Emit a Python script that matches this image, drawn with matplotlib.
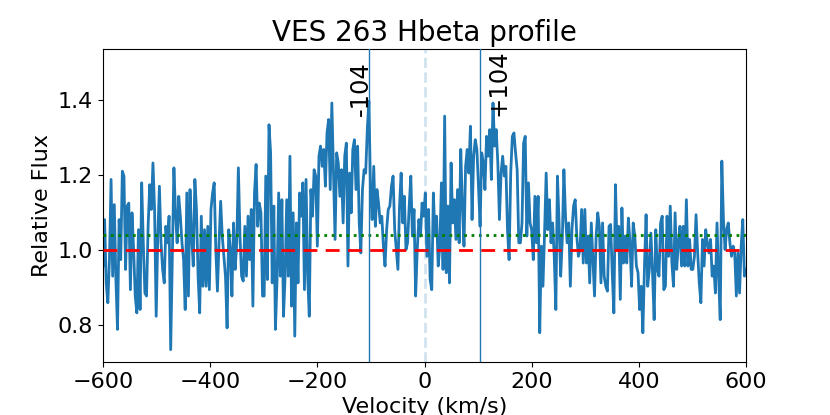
import numpy as np
import matplotlib
matplotlib.use("Agg")
import matplotlib.pyplot as plt

# Spectrum values (relative flux, uniform velocity grid -600..600 km/s)
seg1 = [0.956, 1.080, 0.911, 0.858, 0.973, 1.187, 0.929, 1.120, 0.920, 0.787,
        1.080, 0.973, 1.209, 1.196, 0.947, 1.116, 1.124, 0.893, 1.098, 1.000,
        0.876, 0.831, 1.053, 0.840, 1.178, 1.018, 0.884, 0.876, 1.062, 1.173,
        1.107, 1.231, 1.107, 0.822, 1.036, 1.169, 1.018, 0.947, 0.911, 1.062,
        1.018, 1.089, 0.733, 0.973, 1.218, 1.098, 1.018, 1.142, 1.089, 1.018]
seg2 = [0.973, 0.840, 1.151, 0.876, 1.160, 1.036, 0.956, 1.187, 1.107, 0.929,
        0.831, 1.089, 0.902, 1.053, 0.902, 1.062, 0.893, 1.107, 1.151, 1.178,
        1.000, 0.889, 1.018, 1.129, 1.036, 0.982, 0.929, 0.791, 1.053, 1.000,
        0.876, 1.071, 0.947, 1.018, 1.218, 1.036, 0.929, 0.916, 1.062, 0.929,
        1.089, 0.973, 1.107, 0.849, 1.151, 1.227, 1.062, 1.124, 1.098, 0.876]
seg3 = [0.876, 1.196, 0.920, 1.333, 1.258, 0.911, 1.116, 0.787, 0.920, 1.151,
        0.929, 1.133, 0.822, 0.929, 1.133, 0.929, 1.249, 0.849, 1.098, 0.769,
        1.071, 0.911, 1.151, 1.089, 1.178, 0.893, 1.187, 0.929, 0.822, 1.160,
        1.089, 1.213, 1.196, 1.009, 1.249, 1.276, 1.222, 1.267, 1.169, 1.311,
        1.347, 1.160, 1.391, 1.204, 1.027, 1.258, 1.231, 1.142, 1.213]
seg4 = [1.071, 1.249, 1.284, 0.956, 1.204, 1.098, 1.267, 1.293, 1.160, 1.276,
        1.071, 0.991, 1.160, 1.213, 1.204, 1.320, 1.396, 1.160, 1.080, 1.222,
        1.062, 1.160, 1.124, 1.071, 1.089, 1.009, 0.956, 1.053, 1.107, 1.116,
        1.169, 1.196, 1.053, 1.000, 0.947, 1.116, 1.204, 1.071, 1.142, 1.000,
        1.018, 1.116, 1.196, 1.036, 1.107, 0.876, 1.000, 1.080, 1.036, 1.124]
seg5 = [1.089, 1.151, 0.982, 1.107, 0.920, 0.893, 1.151, 1.036, 1.089, 0.956,
        1.009, 1.178, 0.947, 1.356, 0.938, 1.116, 0.911, 1.231, 1.071, 1.133,
        1.027, 1.160, 1.018, 1.267, 1.116, 1.009, 1.222, 1.267, 1.204, 1.329,
        1.080, 1.249, 1.293, 1.267, 1.169, 1.062, 1.258, 1.231, 1.160, 1.302,
        1.249, 1.320, 1.187, 1.391, 1.276, 1.320, 1.231, 1.080, 1.204, 1.249]
seg6 = [1.196, 1.222, 1.053, 0.973, 1.204, 1.302, 1.311, 1.258, 1.213, 1.018,
        1.018, 1.071, 1.284, 1.302, 1.036, 1.178, 1.071, 1.053, 0.973, 1.142,
        1.018, 1.142, 0.778, 1.009, 0.902, 1.044, 1.204, 1.053, 1.133, 1.018,
        1.071, 0.982, 0.840, 1.196, 1.071, 0.929, 1.027, 1.213, 1.089, 1.018,
        1.071, 0.902, 1.053, 1.116, 1.133, 1.036, 0.982, 1.000, 1.107, 0.964]
seg7 = [1.107, 0.964, 1.036, 0.911, 1.071, 0.973, 0.876, 1.036, 1.098, 1.062,
        0.911, 1.071, 0.929, 0.902, 0.889, 1.062, 1.067, 0.938, 0.831, 1.173,
        1.000, 1.062, 0.867, 1.111, 0.964, 1.036, 0.964, 1.084, 1.018, 0.902,
        1.071, 1.036, 0.956, 0.938, 0.840, 0.902, 0.778, 0.956, 1.093, 0.902,
        0.947, 1.044, 0.938, 0.813, 1.053, 0.947, 0.929, 1.071, 1.089, 0.893]
seg8 = [0.902, 1.089, 0.982, 1.116, 0.964, 0.902, 1.098, 0.947, 1.018, 1.062,
        0.956, 1.062, 0.956, 1.133, 0.956, 1.027, 0.947, 0.947, 0.982, 1.093,
        0.991, 0.911, 0.858, 1.027, 0.956, 1.053, 1.018, 0.991, 1.027, 0.929,
        0.956, 0.884, 1.071, 0.929, 0.813, 1.236, 1.080, 1.000, 1.053, 1.071,
        1.018, 0.982, 1.009, 0.991, 0.876, 0.991, 0.884, 1.009, 1.080, 0.929,
        0.947]

flux = np.array(seg1 + seg2 + seg3 + seg4 + seg5 + seg6 + seg7 + seg8)
v_min, v_max = -600, 600
velocity = np.linspace(v_min, v_max, len(flux))

continuum = 1.0
threshold = 1.038
peak_velocities = [-104, 104]
peak_labels = ["-104", "+104"]
label_x = [-118, 137]
label_y = 1.355
x_ticks = [-600, -400, -200, 0, 200, 400, 600]
y_ticks = [0.8, 1.0, 1.2, 1.4]

fig = plt.figure(figsize=(8.3, 4.15), dpi=100)
ax = fig.add_axes([0.1241, 0.1277, 0.7747, 0.7542])

ax.plot(velocity, flux, color="#1f77b4", lw=2, zorder=2)
ax.axhline(continuum, color="red", ls="--", lw=2, dashes=(5, 3), zorder=3)
ax.axhline(threshold, color="green", ls=":", lw=2, zorder=3)
for pv in peak_velocities:
    ax.axvline(pv, color="#1f77b4", lw=1, zorder=4)
ax.axvline(0, color="#1f77b4", alpha=0.2, ls="--", lw=2, zorder=4)
for lx, lab in zip(label_x, peak_labels):
    ax.text(lx, label_y, lab, rotation=90, fontsize=17.5, ha="center", va="bottom")

ax.set_xlim(v_min, v_max)
ax.set_ylim(0.70, 1.535)
ax.set_xticks(x_ticks)
ax.set_yticks(y_ticks)
ax.tick_params(labelsize=16)
ax.set_xlabel("Velocity (km/s)", fontsize=16)
ax.set_ylabel("Relative Flux", fontsize=16)
ax.set_title("VES 263 Hbeta profile", fontsize=20)

fig.savefig("out.png", dpi=100)
